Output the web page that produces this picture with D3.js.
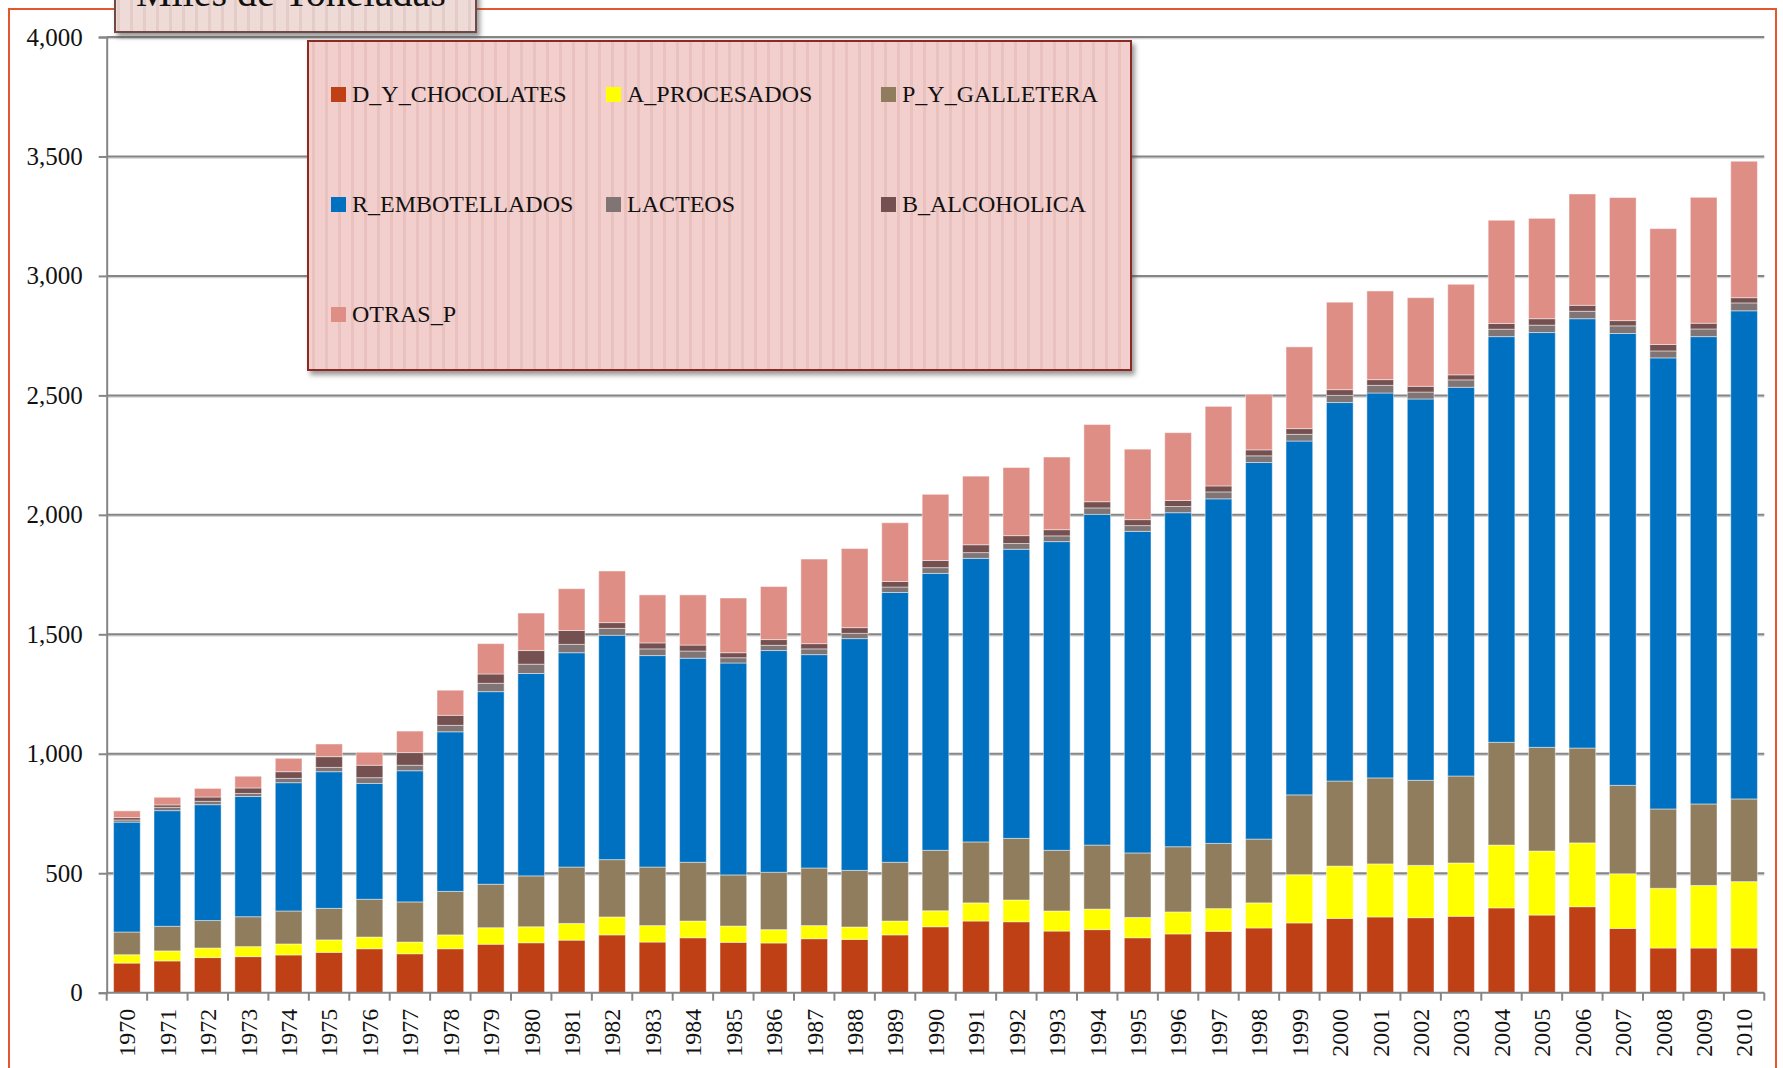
<!DOCTYPE html>
<html lang="es">
<head>
  <meta charset="utf-8">
  <title>Miles de Toneladas</title>
  <script src="https://cdnjs.cloudflare.com/ajax/libs/d3/7.8.5/d3.min.js"></script>
  <style>
    html, body { margin: 0; padding: 0; background: #fff; }
    svg { display: block; font-family: "Liberation Serif", "Times New Roman", serif; }
  </style>
</head>
<body>
<script>
var years = d3.range(1970, 2011).map(String);

var seriesNames = ["D_Y_CHOCOLATES", "A_PROCESADOS", "P_Y_GALLETERA", "R_EMBOTELLADOS", "LACTEOS", "B_ALCOHOLICA", "OTRAS_P"];
var seriesColors = ["#BE4014", "#FFFF00", "#8F7D5E", "#0070C0", "#807474", "#755050", "#DF8E86"];

// thousand tonnes, one value per year 1970..2010
var chocolates = [124,133,147,151,158,169,184,163,184,203,209,220,242,212,230,211,208,226,223,242,276,300,297,258,264,230,246,257,271,292,311,317,314,320,355,325,360,269,187,187,187];
var procesados = [35,42,40,42,46,52,49,49,58,69,67,70,75,69,70,68,56,55,52,58,67,76,91,84,86,85,92,95,105,202,219,222,219,223,263,268,267,229,250,262,278];
var galletera = [95,103,115,125,138,132,158,168,182,182,213,236,240,245,246,214,240,241,237,246,253,255,258,254,268,270,273,273,267,334,356,360,356,364,430,434,397,370,332,341,346];
var embotellados = [460,484,485,503,537,572,485,549,668,806,847,897,939,885,854,887,928,893,970,1129,1159,1187,1210,1292,1384,1346,1398,1442,1576,1481,1584,1611,1596,1627,1698,1736,1797,1891,1888,1956,2043];
var lacteos = [9,14,14,13,18,18,24,23,27,35,39,35,29,28,30,22,22,24,22,23,24,24,24,24,27,24,26,29,28,28,30,32,29,31,31,31,31,32,29,32,33];
var alcoholica = [10,10,18,23,28,45,52,53,42,39,57,58,24,25,25,21,24,22,24,23,30,33,33,26,26,25,25,25,25,24,24,24,24,21,24,27,25,22,27,24,22];
var otras = [28,32,36,49,56,53,54,90,105,127,157,175,216,201,210,229,222,354,331,246,277,287,285,304,323,295,284,333,233,342,366,371,371,379,432,420,466,515,485,527,571];

var yTicks = [0, 500, 1000, 1500, 2000, 2500, 3000, 3500, 4000];
var titleText = "Miles de Toneladas";

var seriesValues = [chocolates, procesados, galletera, embotellados, lacteos, alcoholica, otras];

var width = 1783, height = 1068;
var x0 = 106.7, x1 = 1764.3, yBase = 992.7, yTop = 37;

var rows = years.map(function (y, i) {
  var r = { year: y };
  seriesNames.forEach(function (s, k) { r[s] = seriesValues[k][i]; });
  return r;
});

var stack = d3.stack().keys(seriesNames)(rows);

var x = d3.scaleBand().domain(years).range([x0, x1]).paddingInner(0.34).paddingOuter(0.17);
var y = d3.scaleLinear().domain([0, 4000]).range([yBase, yTop]);
var color = d3.scaleOrdinal().domain(seriesNames).range(seriesColors);

var svg = d3.select("body").append("svg").attr("width", width).attr("height", height);

var defs = svg.append("defs");
var shadow = defs.append("filter").attr("id", "shadow").attr("x", "-5%").attr("y", "-5%").attr("width", "115%").attr("height", "120%");
shadow.append("feDropShadow").attr("dx", 3).attr("dy", 4).attr("stdDeviation", 2.5)
  .attr("flood-color", "#444").attr("flood-opacity", 0.55);

function stripes(id, base, line) {
  var p = defs.append("pattern").attr("id", id).attr("patternUnits", "userSpaceOnUse")
    .attr("width", 13).attr("height", 10);
  p.append("rect").attr("width", 13).attr("height", 10).attr("fill", base);
  p.append("rect").attr("x", 0).attr("width", 3).attr("height", 10).attr("fill", line);
}
stripes("legendFill", "#F2CECC", "#E9C2C0");
stripes("titleFill", "#EEDAD6", "#E4CDC9");

// outer frame
svg.append("rect").attr("x", 9).attr("y", 9).attr("width", 1767).attr("height", 1100)
  .attr("fill", "none").attr("stroke", "#E4572E").attr("stroke-width", 2);

// gridlines
svg.append("g").selectAll("line").data(yTicks.slice(1)).enter().append("line")
  .attr("x1", x0).attr("x2", x1)
  .attr("y1", function (d) { return y(d) + 1.5; }).attr("y2", function (d) { return y(d) + 1.5; })
  .attr("stroke", "#d4d4d4").attr("stroke-width", 1.5);
svg.append("g").selectAll("line").data(yTicks.slice(1)).enter().append("line")
  .attr("x1", x0).attr("x2", x1)
  .attr("y1", function (d) { return y(d); }).attr("y2", function (d) { return y(d); })
  .attr("stroke", "#858585").attr("stroke-width", 2);

// bars
svg.append("g").selectAll("g").data(stack).enter().append("g")
  .attr("fill", function (d) { return color(d.key); })
  .selectAll("rect").data(function (d) { return d; }).enter().append("rect")
  .attr("x", function (d) { return x(d.data.year); })
  .attr("width", x.bandwidth())
  .attr("y", function (d) { return y(d[1]); })
  .attr("height", function (d) { return y(d[0]) - y(d[1]); })
  .attr("stroke", "rgba(255,255,255,0.45)").attr("stroke-width", 1);

// y axis
var yAxis = svg.append("g").attr("transform", "translate(" + x0 + ",0)")
  .call(d3.axisLeft(y).tickValues(yTicks).tickSize(8).tickPadding(16).tickFormat(d3.format(",")));
yAxis.select(".domain").attr("stroke", "#858585").attr("stroke-width", 2);
yAxis.selectAll(".tick line").attr("stroke", "#858585").attr("stroke-width", 2);
yAxis.selectAll("text").attr("font-size", 25).attr("fill", "#111")
  .attr("font-family", "'Liberation Serif', 'Times New Roman', serif");

// x axis: boundary ticks
var edge = d3.scaleLinear().domain([0, years.length]).range([x0, x1]);
svg.append("line").attr("x1", x0).attr("x2", x1).attr("y1", yBase).attr("y2", yBase)
  .attr("stroke", "#858585").attr("stroke-width", 2);
svg.append("g").selectAll("line").data(d3.range(years.length + 1)).enter().append("line")
  .attr("x1", function (d) { return edge(d); }).attr("x2", function (d) { return edge(d); })
  .attr("y1", yBase).attr("y2", yBase + 8)
  .attr("stroke", "#858585").attr("stroke-width", 2);

var xAxis = svg.append("g").attr("transform", "translate(0," + yBase + ")")
  .call(d3.axisBottom(x).tickSize(0).tickPadding(0));
xAxis.select(".domain").remove();
xAxis.selectAll("text")
  .attr("font-size", 24).attr("fill", "#111")
  .attr("font-family", "'Liberation Serif', 'Times New Roman', serif")
  .attr("text-anchor", "end")
  .attr("transform", "translate(0,16) rotate(-90)")
  .attr("x", 0).attr("y", 0).attr("dy", "0.35em");

// title box (cut by the top edge)
var tg = svg.append("g");
tg.append("rect").attr("x", 115).attr("y", -30).attr("width", 361).attr("height", 62)
  .attr("fill", "url(#titleFill)").attr("stroke", "#6E4A44").attr("stroke-width", 2)
  .attr("filter", "url(#shadow)");
tg.append("text").attr("x", 136).attr("y", 6).attr("font-size", 40).attr("fill", "#111")
  .text(titleText);

// legend
var lg = svg.append("g");
lg.append("rect").attr("x", 308).attr("y", 41).attr("width", 823).attr("height", 329)
  .attr("fill", "url(#legendFill)").attr("stroke", "#8B2A22").attr("stroke-width", 2)
  .attr("filter", "url(#shadow)");
var colX = [331, 606, 881], rowY = [94, 204, 314];
var items = lg.selectAll("g.item").data(seriesNames).enter().append("g")
  .attr("transform", function (d, i) { return "translate(" + colX[i % 3] + "," + rowY[Math.floor(i / 3)] + ")"; });
items.append("rect").attr("x", 0).attr("y", -7).attr("width", 15).attr("height", 15)
  .attr("fill", function (d) { return color(d); });
items.append("text").attr("x", 21).attr("y", 0).attr("dy", "0.35em")
  .attr("font-size", 24).attr("fill", "#111").text(function (d) { return d; });
</script>
</body>
</html>
